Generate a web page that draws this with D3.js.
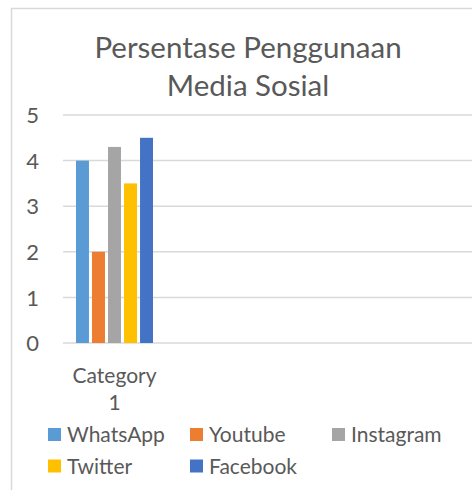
<!DOCTYPE html>
<html>
<head>
<meta charset="utf-8">
<script src="https://cdn.jsdelivr.net/npm/d3@7"></script>
<style>
  body { margin: 0; background: #fff; }
  text { font-family: Lato, "Open Sans", sans-serif; fill: #595959; }
</style>
</head>
<body>
<div id="vis"></div>
<script>
// data
var categories = ['Category 1'];
var series = ['WhatsApp', 'Youtube', 'Instagram', 'Twitter', 'Facebook'];
var values = [4, 2, 4.3, 3.5, 4.5];
var colors = ['#5b9bd5', '#ed7d31', '#a5a5a5', '#ffc000', '#4472c4'];
var yTicks = [0, 1, 2, 3, 4, 5];
var titleLines = ['Persentase Penggunaan', 'Media Sosial'];

var width = 472,
	height = 490;

var svg = d3.select('#vis').append('svg')
	.attr('width', width)
	.attr('height', height);

svg.append('rect').attr('width', width).attr('height', height).attr('fill', '#fff');

// chart frame (left and top edges are visible)
svg.append('path')
	.attr('d', 'M11.5,490 L11.5,8.5 L472,8.5')
	.attr('fill', 'none')
	.attr('stroke', '#d9d9d9')
	.attr('stroke-width', 1.5);

// title
svg.append('g').selectAll('text')
	.data(titleLines)
	.enter().append('text')
	.attr('x', 248)
	.attr('y', function(d, i) { return 58 + i * 37.5; })
	.attr('text-anchor', 'middle')
	.style('font-size', '29.5px')
	.text(function(d) { return d; });

var y = d3.scaleLinear().domain([0, 5]).range([343, 115]);

var x0 = d3.scaleBand().domain(categories).range([63, 166]);
var x1 = d3.scaleBand().domain(series).range([-38.5, 38.5]).paddingInner(0.19);

// gridlines
svg.append('g').selectAll('line')
	.data(yTicks)
	.enter().append('line')
	.attr('x1', 63)
	.attr('x2', width)
	.attr('y1', function(d) { return y(d); })
	.attr('y2', function(d) { return y(d); })
	.attr('stroke', '#d9d9d9')
	.attr('stroke-width', 1.5);

// y axis labels
var yAxis = d3.axisLeft(y).tickValues(yTicks).tickFormat(d3.format('d')).tickSize(0).tickPadding(0);
var yg = svg.append('g').attr('transform', 'translate(39,0)').call(yAxis);
yg.select('.domain').remove();
yg.selectAll('text')
	.attr('fill', null)
	.attr('dy', '0.35em')
	.style('font-size', '22px')
	.style('font-family', 'Lato, sans-serif');

// bars
var groups = svg.append('g').selectAll('g')
	.data(categories)
	.enter().append('g')
	.attr('transform', function(d) { return 'translate(' + (x0(d) + x0.bandwidth() / 2) + ',0)'; });

groups.selectAll('rect')
	.data(series.map(function(s, i) { return { name: s, value: values[i], color: colors[i] }; }))
	.enter().append('rect')
	.attr('x', function(d) { return x1(d.name); })
	.attr('width', x1.bandwidth())
	.attr('y', function(d) { return y(d.value); })
	.attr('height', function(d) { return y(0) - y(d.value); })
	.attr('fill', function(d) { return d.color; });

// category label, wrapped like the original
groups.append('text')
	.attr('text-anchor', 'middle')
	.style('font-size', '21px')
	.selectAll('tspan')
	.data(function(d) { return d.split(' '); })
	.enter().append('tspan')
	.attr('x', 0)
	.attr('y', function(d, i) { return 383 + i * 27; })
	.text(function(d) { return d; });

// legend
var legendCols = [48, 190, 332];
var legend = svg.append('g').selectAll('g')
	.data(series)
	.enter().append('g')
	.attr('transform', function(d, i) {
		return 'translate(' + legendCols[i % 3] + ',' + (428 + Math.floor(i / 3) * 31.5) + ')';
	});

legend.append('rect')
	.attr('width', 13)
	.attr('height', 13)
	.attr('fill', function(d, i) { return colors[i]; });

legend.append('text')
	.attr('x', 19)
	.attr('y', 14)
	.style('font-size', '21px')
	.text(function(d) { return d; });
</script>
</body>
</html>
